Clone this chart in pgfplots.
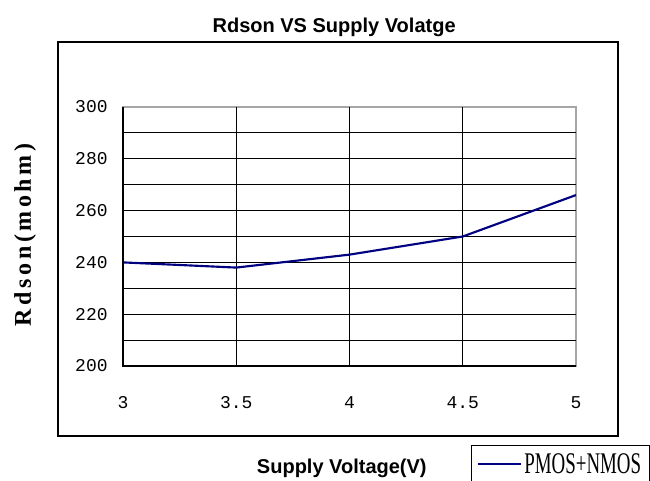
\documentclass[border=0pt]{standalone}
\usepackage{pgfplots}
\pgfplotsset{compat=1.18}
\usepackage{fontspec}
\setmainfont{Liberation Sans}
\newfontfamily\monof{Liberation Mono}
\newfontfamily\seriff{Liberation Serif}
\newfontfamily\serifsp{Liberation Serif}[LetterSpace=15]
\definecolor{navy}{RGB}{0,0,128}
\begin{document}
\begin{tikzpicture}[x=0.75pt,y=0.75pt]
\useasboundingbox (-123,-115) rectangle (527,366);
\draw[black, line width=0.9pt] (-65,-70) rectangle (495,324);
\begin{axis}[
  at={(0,0)}, anchor=south west,
  scale only axis,
  width=339.75pt, height=194.25pt,
  xmin=3, xmax=5, ymin=200, ymax=300,
  xtick={3,3.5,4,4.5,5},
  xticklabels={3,3.5,4,4.5,5},
  ytick={200,220,240,260,280,300},
  yticklabels={200,220,240,260,280,300},
  extra x ticks={3.5,4,4.5},
  extra x tick labels={},
  extra y ticks={210,220,230,240,250,260,270,280,290},
  extra y tick labels={},
  extra tick style={grid=major, major grid style={black, line width=0.75pt}},
  major tick length=0pt,
  axis line style={draw=gray!70, line width=0.9pt},
  tick label style={font=\monof\fontsize{13.5}{14}\selectfont},
  x tick label style={yshift=-19.5pt},
  y tick label style={xshift=-8pt},
  every axis title shift=0pt,
  title={Rdson VS Supply Volatge},
  title style={font=\bfseries\fontsize{15}{18}\selectfont, at={(0.466,1.309)}, anchor=center},
  xlabel={Supply Voltage(V)},
  xlabel style={font=\bfseries\fontsize{15}{18}\selectfont, at={(0.483,-0.394)}, anchor=center},
  ylabel={Rdson(mohm)},
  ylabel style={font=\serifsp\bfseries\fontsize{18}{20}\selectfont, at={(-0.216,0.506)}, anchor=center},
  legend style={at={(0.768,-0.305)}, anchor=north west, draw=black, line width=0.75pt,
    inner xsep=4pt, inner ysep=4pt, font=\seriff\fontsize{22.5}{24}\selectfont},
  legend image code/.code={\draw[#1, line width=1.5pt] (0pt,0pt) -- (32.25pt,0pt);},
  legend cell align=left,
  after end axis/.code={\draw[black, line width=0.9pt] (rel axis cs:0,1) |- (rel axis cs:1,0);},
]
\addplot[navy, line width=1.6pt] coordinates {(3,240) (3.5,238) (4,243) (4.5,250) (5,266)};
\addlegendentry{\scalebox{0.63}[1]{PMOS+NMOS}}
\end{axis}
\end{tikzpicture}
\end{document}
